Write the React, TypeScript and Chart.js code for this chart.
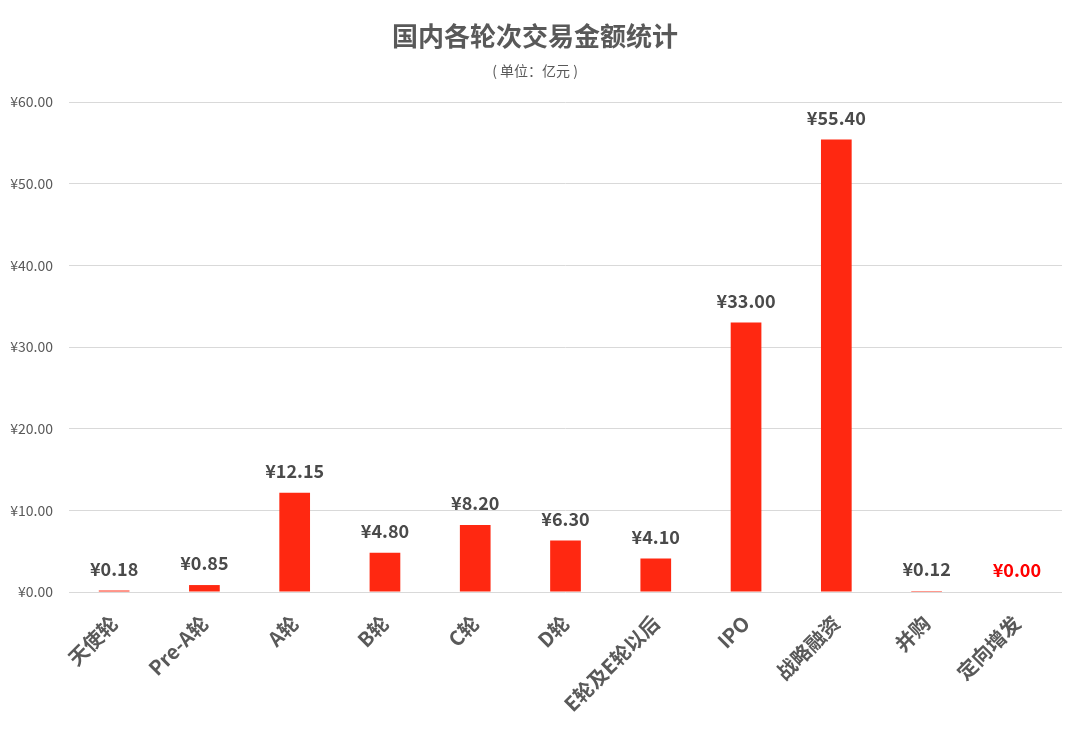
import React, { useEffect, useRef } from "react";
import { Chart, registerables } from "chart.js";

Chart.register(...registerables);

const categories = ["天使轮", "Pre-A轮", "A轮", "B轮", "C轮", "D轮", "E轮及E轮以后", "IPO", "战略融资", "并购", "定向增发"];
const amounts = [0.18, 0.85, 12.15, 4.8, 8.2, 6.3, 4.1, 33.0, 55.4, 0.12, 0.0];
const yTicks = [0, 10, 20, 30, 40, 50, 60];
const titleText = "国内各轮次交易金额统计";
const subtitleText = "( 单位：亿元 )";

const FONT = "'Noto Sans CJK SC', 'Noto Sans', sans-serif";

const valueLabels = {
  id: "valueLabels",
  afterDatasetsDraw(chart: any) {
    const ctx = chart.ctx;
    const meta = chart.getDatasetMeta(0);
    ctx.save();
    ctx.font = `bold 18px ${FONT}`;
    ctx.textAlign = "center";
    ctx.textBaseline = "alphabetic";
    meta.data.forEach((bar: any, i: number) => {
      const v = amounts[i];
      ctx.fillStyle = v === 0 ? "#ff0000" : "#4a4a4a";
      ctx.fillText("¥" + v.toFixed(2), bar.x, bar.y - 15);
    });
    ctx.restore();
  },
};

export default function App() {
  const ref = useRef<HTMLCanvasElement>(null);
  useEffect(() => {
    if (!ref.current) return;
    const chart = new Chart(ref.current, {
      type: "bar",
      data: {
        labels: categories,
        datasets: [
          {
            data: amounts,
            backgroundColor: "#ff2811",
            barPercentage: 0.34,
            categoryPercentage: 1,
          },
        ],
      },
      options: {
        animation: false,
        responsive: false,
        maintainAspectRatio: false,
        layout: { padding: { left: 8, right: 18, top: 0, bottom: 0 } },
        plugins: {
          legend: { display: false },
          tooltip: { enabled: false },
          title: {
            display: true,
            text: titleText,
            color: "#595959",
            font: { family: FONT, size: 26, weight: "bold" },
            padding: { top: 21, bottom: 4 },
          },
          subtitle: {
            display: true,
            text: subtitleText,
            color: "#595959",
            font: { family: FONT, size: 14 },
            padding: { top: 6, bottom: 23 },
          },
        },
        scales: {
          x: {
            grid: { display: false, drawTicks: false },
            border: { display: false },
            afterFit: (s: any) => {
              s.height = 139;
            },
            ticks: {
              maxRotation: 45,
              minRotation: 45,
              autoSkip: false,
              padding: 19,
              color: "#595959",
              font: { family: FONT, size: 20, weight: "bold" },
            },
          },
          y: {
            min: 0,
            max: 60,
            afterFit: (s: any) => {
              s.width = 61;
            },
            afterBuildTicks: (s: any) => {
              s.ticks = yTicks.map((v) => ({ value: v }));
            },
            grid: { color: "#d9d9d9", lineWidth: 1, drawTicks: false },
            border: { display: false },
            ticks: {
              padding: 16,
              color: "#595959",
              font: { family: FONT, size: 14 },
              callback: (v: any) => "¥" + Number(v).toFixed(2),
            },
          },
        },
      },
      plugins: [valueLabels],
    });
    return () => chart.destroy();
  }, []);
  return (
    <div style={{ position: "absolute", left: 0, top: 0, width: 1080, height: 731, background: "#fff" }}>
      <canvas ref={ref} width={1080} height={731} style={{ width: 1080, height: 731 }} />
    </div>
  );
}
